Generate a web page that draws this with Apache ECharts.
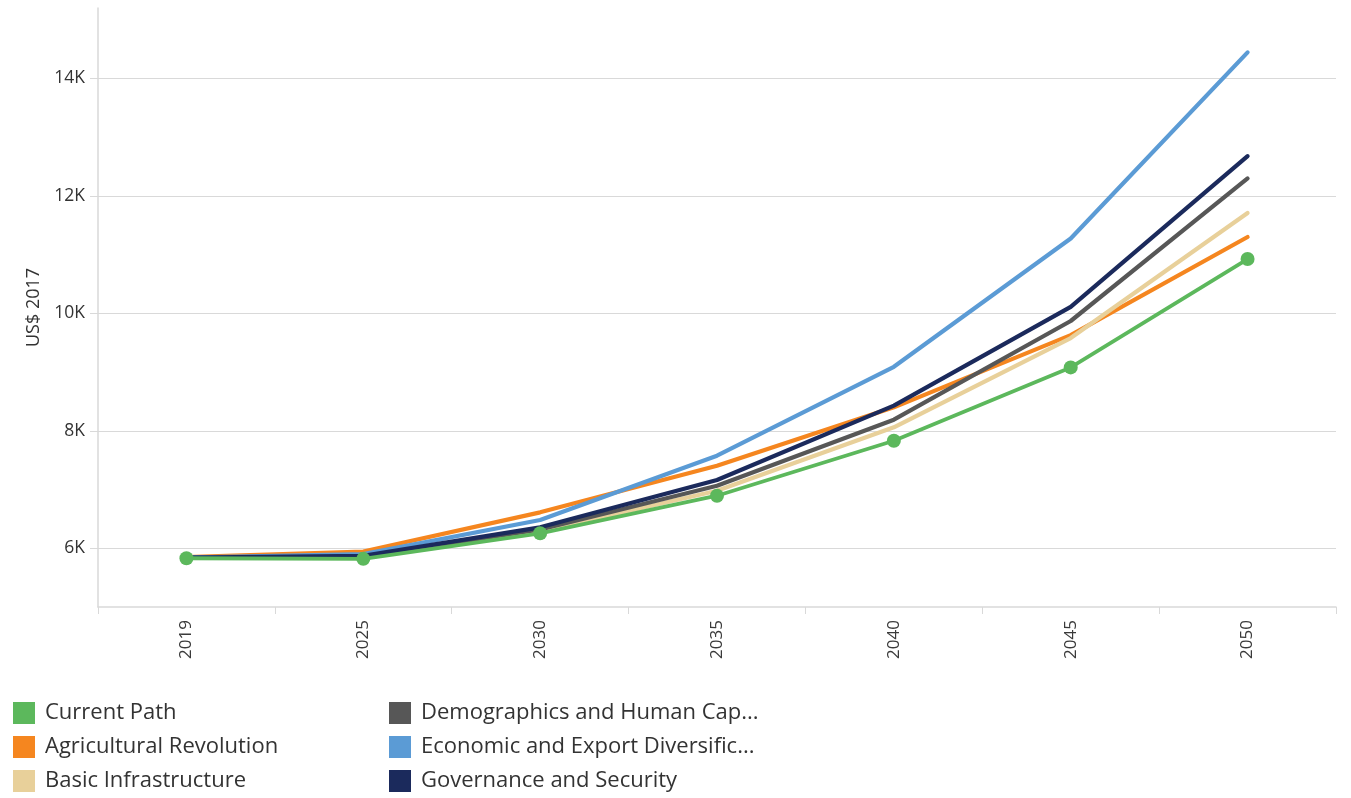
<!DOCTYPE html>
<html>
<head>
<meta charset="utf-8">
<title>GDP per capita scenarios</title>
<script src="https://cdn.jsdelivr.net/npm/echarts@6/dist/echarts.min.js"></script>
<style>
  html, body { margin: 0; padding: 0; background: #ffffff; }
  #chart { width: 1351px; height: 798px; }
</style>
</head>
<body>
<div id="chart"></div>
<script>
// Years on the horizontal axis
const years = ['2019', '2025', '2030', '2035', '2040', '2045', '2050'];

// Scenario values, US$ 2017
const currentPath   = [5830, 5820, 6255, 6895, 7830, 9080, 10925];
const agricultural  = [5850, 5945, 6612, 7406, 8400, 9630, 11300];
const basicInfra    = [5840, 5850, 6290, 6980, 8060, 9580, 11710];
const demographics  = [5840, 5860, 6320, 7066, 8190, 9870, 12297];
const economic      = [5840, 5900, 6482, 7576, 9090, 11275, 14444];
const governance    = [5840, 5870, 6357, 7163, 8430, 10110, 12677];

// Value-axis tick labels
const yTicks = [6000, 8000, 10000, 12000, 14000];

const names = [
  'Current Path',
  'Agricultural Revolution',
  'Basic Infrastructure',
  'Demographics and Human Cap...',
  'Economic and Export Diversific...',
  'Governance and Security'
];
const colors = ['#5cb85c', '#f5861f', '#e8d09a', '#575757', '#5b9bd5', '#1b2a5c'];
const values = [currentPath, agricultural, basicInfra, demographics, economic, governance];

const FONT = "'Open Sans', 'DejaVu Sans', sans-serif";

const series = values.map((data, i) => {
  const isCurrent = i === 0;
  return {
    name: names[i],
    type: 'line',
    data: data,
    color: colors[i],
    z: isCurrent ? 10 : 3 + i,
    showSymbol: isCurrent,
    symbol: 'circle',
    symbolSize: isCurrent ? 14 : 0,
    lineStyle: { width: isCurrent ? 3.8 : 4.2, color: colors[i], cap: 'round', join: 'round' },
    itemStyle: { color: colors[i] },
    emphasis: { disabled: true }
  };
});

const legendBase = {
  orient: 'vertical',
  itemWidth: 22,
  itemHeight: 22,
  itemGap: 12,
  icon: 'rect',
  selectedMode: false,
  textStyle: { fontFamily: FONT, fontSize: 22, color: '#333333', padding: [0, 0, 0, 5] }
};

const chart = echarts.init(document.getElementById('chart'), null, { renderer: 'canvas' });
chart.setOption({
  animation: false,
  backgroundColor: '#ffffff',
  grid: { left: 98, right: 15, top: 8, bottom: 191, containLabel: false },
  legend: [
    Object.assign({}, legendBase, { left: 8, top: 697, data: names.slice(0, 3) }),
    Object.assign({}, legendBase, { left: 384, top: 697, data: names.slice(3) })
  ],
  xAxis: {
    type: 'category',
    data: years,
    boundaryGap: true,
    axisLine: { show: true, lineStyle: { color: '#d9d9d9', width: 1.5 } },
    axisTick: { show: true, length: 7, lineStyle: { color: '#d9d9d9' } },
    axisLabel: {
      rotate: 90,
      margin: 13,
      fontFamily: FONT,
      fontSize: 17,
      color: '#3a3a3a'
    },
    splitLine: { show: false }
  },
  yAxis: {
    type: 'value',
    min: 5000,
    max: 15200,
    name: 'US$ 2017',
    nameLocation: 'middle',
    nameRotate: 90,
    nameGap: 55,
    nameTextStyle: { fontFamily: FONT, fontSize: 18, color: '#333333' },
    axisLine: { show: true, lineStyle: { color: '#d9d9d9', width: 1.5 } },
    axisTick: { show: true, length: 8, customValues: yTicks, lineStyle: { color: '#d9d9d9' } },
    axisLabel: {
      customValues: yTicks,
      margin: 13,
      fontFamily: FONT,
      fontSize: 17.5,
      color: '#333333',
      formatter: v => (v / 1000) + 'K'
    },
    splitLine: { show: true, lineStyle: { color: '#d9d9d9', width: 1.2 } }
  },
  series: series
});
</script>
</body>
</html>
